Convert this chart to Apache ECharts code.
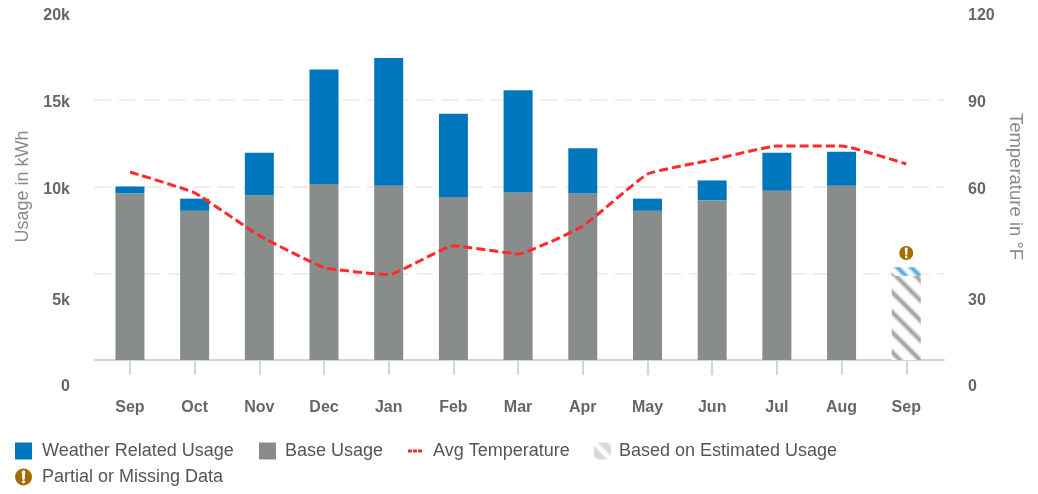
<!DOCTYPE html>
<html>
<head>
<meta charset="utf-8">
<style>
  html, body { margin: 0; padding: 0; background: #fff; }
  #chart { width: 1038px; height: 494px; }
</style>
<script src="https://cdn.jsdelivr.net/npm/echarts@6/dist/echarts.min.js"></script>
</head>
<body>
<div id="chart"></div>
<script>
const months = ['Sep', 'Oct', 'Nov', 'Dec', 'Jan', 'Feb', 'Mar', 'Apr', 'May', 'Jun', 'Jul', 'Aug', 'Sep'];
const baseUsage = [9600, 8600, 9500, 10150, 10050, 9400, 9650, 9600, 8600, 9200, 9750, 10050, null];
const weatherUsage = [400, 700, 2450, 6600, 7350, 4800, 5900, 2600, 700, 1150, 2200, 1950, null];
const estimatedBase = [null, null, null, null, null, null, null, null, null, null, null, null, 4850];
const estimatedWeather = [null, null, null, null, null, null, null, null, null, null, null, null, 500];
const avgTemperature = [65, 57.8, 43, 32, 29.5, 39.5, 36.7, 46.3, 64.3, 69.2, 74, 74, 67.8];
const partialData = [null, null, null, null, null, null, null, null, null, null, null, null, 6170];

const FONT = '"Liberation Sans", Arial, sans-serif';
const LABEL_COLOR = '#666666';
const TEXT_COLOR = '#555555';
const WARN_ICON = 'path://M12 0A12 12 0 1 1 12 24A12 12 0 1 1 12 0ZM9.5 5L10.3 14.5A1.7 1.7 0 0 0 13.7 14.5L14.5 5A2.5 2.5 0 0 0 9.5 5ZM12 16.6A2.2 2.2 0 0 0 12 21A2.2 2.2 0 0 0 12 16.6Z';
const DOTS_ICON = 'path://M0 0L0.01 0L0 0.01ZM17 17L16.99 17L17 16.99ZM0 7H4V10H0ZM5 7H9V10H5ZM10 7H14V10H10Z';

// diagonal stripes for the estimated bar and its legend key
function hatch(bg, stripe, size, lineWidth, blur) {
  const c = document.createElement('canvas');
  c.width = size;
  c.height = size;
  const ctx = c.getContext('2d');
  ctx.fillStyle = bg;
  ctx.fillRect(0, 0, size, size);
  ctx.strokeStyle = stripe;
  ctx.lineWidth = lineWidth;
  if (blur) ctx.filter = 'blur(' + blur + 'px)';
  [-size, 0, size].forEach(function (d) {
    ctx.beginPath();
    ctx.moveTo(d - size, -size);
    ctx.lineTo(d + 2 * size, 2 * size);
    ctx.stroke();
  });
  return { image: c, repeat: 'repeat' };
}

function usageLabel(v) {
  const text = v === 0 ? '0' : v / 1000 + 'k';
  return (v <= 5000 ? '{low|' : '{high|') + text + '}';
}
function tempLabel(v) {
  return (v <= 30 ? '{low|' : '{high|') + v + '}';
}
const tickFont = { fontFamily: FONT, fontSize: 16, fontWeight: 'bold', color: LABEL_COLOR };
const tickRich = {
  low: Object.assign({ padding: [54, 0, 0, 0] }, tickFont),
  high: Object.assign({ padding: [6, 0, 0, 0] }, tickFont)
};

function legendItem(name, left, top, textGap, itemStyle) {
  return {
    left: left,
    top: top,
    padding: 0,
    itemWidth: 17,
    itemHeight: 17,
    itemGap: 0,
    selectedMode: false,
    textStyle: { fontFamily: FONT, fontSize: 18, color: TEXT_COLOR, padding: [1, 0, 0, textGap] },
    data: [Object.assign({ name: name }, itemStyle || {})]
  };
}

const chart = echarts.init(document.getElementById('chart'));
chart.setOption({
  animation: false,
  backgroundColor: '#ffffff',
  grid: [
    { left: 94, right: 94, top: 13, bottom: 134 },
    { left: 97.6, right: 99.4, top: 13, bottom: 134 }
  ],
  legend: [
    legendItem('Weather Related Usage', 15, 442, 5, { icon: 'rect' }),
    legendItem('Base Usage', 259, 442, 4, { icon: 'rect' }),
    legendItem('Avg Temperature', 408, 442, 3, {
      icon: DOTS_ICON,
      itemStyle: { color: '#ff2a2a', borderWidth: 0 }
    }),
    legendItem('Based on Estimated Usage', 594, 442, 3, {
      icon: 'rect',
      itemStyle: { color: hatch('#dadada', '#ffffff', 17, 5) }
    }),
    legendItem('Partial or Missing Data', 15, 468, 5, { icon: WARN_ICON })
  ],
  xAxis: [
    {
      type: 'category',
      gridIndex: 0,
      data: months,
      axisLine: { lineStyle: { color: '#ccd6eb', width: 2 } },
      axisTick: { show: false },
      axisLabel: { show: false },
      splitLine: { show: false }
    },
    {
      type: 'category',
      gridIndex: 1,
      data: months,
      axisLine: { show: false },
      axisTick: { show: true, alignWithLabel: true, length: 15, lineStyle: { color: '#ccd6eb', width: 2 } },
      axisLabel: Object.assign({ margin: 40, interval: 0 }, tickFont),
      splitLine: { show: false }
    }
  ],
  yAxis: [
    {
      type: 'value',
      gridIndex: 0,
      min: 0,
      max: 20000,
      interval: 5000,
      name: 'Usage in kWh',
      nameLocation: 'middle',
      nameGap: 62,
      nameTextStyle: { fontFamily: FONT, fontSize: 18, color: '#888888' },
      axisLine: { show: false },
      axisTick: { show: false },
      axisLabel: { margin: 24, formatter: usageLabel, rich: tickRich },
      splitLine: {
        show: true,
        showMinLine: false,
        showMaxLine: false,
        lineStyle: { color: '#eeeeee', width: 2, type: [17, 7.8] }
      }
    },
    {
      type: 'value',
      gridIndex: 0,
      position: 'right',
      min: 0,
      max: 120,
      interval: 30,
      name: 'Temperature in °F',
      nameLocation: 'middle',
      nameRotate: -90,
      nameGap: 59,
      nameTextStyle: { fontFamily: FONT, fontSize: 18.5, color: '#888888' },
      axisLine: { show: false },
      axisTick: { show: false },
      axisLabel: { margin: 24, formatter: tempLabel, rich: tickRich },
      splitLine: { show: false }
    },
    { type: 'value', gridIndex: 1, min: 0, max: 20000, show: false },
    { type: 'value', gridIndex: 1, min: 0, max: 120, show: false }
  ],
  series: [
    {
      name: 'Base Usage',
      type: 'bar',
      stack: 'usage',
      xAxisIndex: 1,
      yAxisIndex: 2,
      barWidth: 29,
      itemStyle: { color: '#888c8a' },
      data: baseUsage
    },
    {
      name: 'Weather Related Usage',
      type: 'bar',
      stack: 'usage',
      xAxisIndex: 1,
      yAxisIndex: 2,
      itemStyle: { color: '#0077bd' },
      data: weatherUsage
    },
    {
      name: 'Based on Estimated Usage',
      type: 'bar',
      stack: 'usage',
      xAxisIndex: 1,
      yAxisIndex: 2,
      itemStyle: { color: hatch('#ffffff', '#999b9b', 20, 4, 1) },
      data: estimatedBase
    },
    {
      name: 'Estimated Weather',
      type: 'bar',
      stack: 'usage',
      xAxisIndex: 1,
      yAxisIndex: 2,
      itemStyle: { color: hatch('#ffffff', '#4d9fdc', 14, 4, 1) },
      data: estimatedWeather
    },
    {
      name: 'Avg Temperature',
      type: 'line',
      xAxisIndex: 1,
      yAxisIndex: 3,
      smooth: 0.12,
      symbol: 'none',
      z: 5,
      itemStyle: { color: '#ff2a2a' },
      lineStyle: { color: '#ff2a2a', width: 3, type: [9, 4] },
      data: avgTemperature
    },
    {
      name: 'Partial or Missing Data',
      type: 'scatter',
      xAxisIndex: 1,
      yAxisIndex: 2,
      symbol: WARN_ICON,
      symbolSize: 14,
      z: 6,
      itemStyle: { color: '#a56a00', opacity: 1 },
      data: partialData
    }
  ]
});
</script>
</body>
</html>
